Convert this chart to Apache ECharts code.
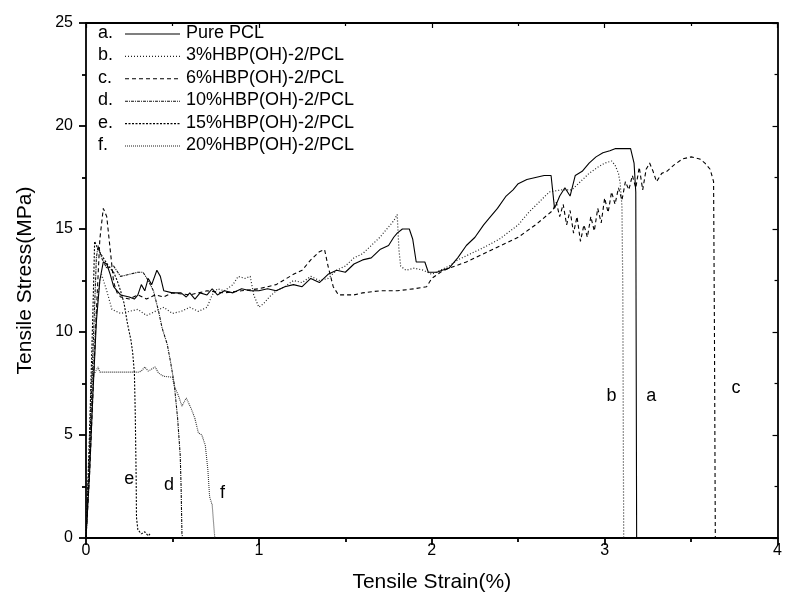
<!DOCTYPE html>
<html><head><meta charset="utf-8">
<script src="https://cdn.jsdelivr.net/npm/echarts@6/dist/echarts.min.js"></script>
<style>html,body{margin:0;padding:0;background:#fff}#c{width:785px;height:598px}</style>
</head><body><div id="c"></div>
<script>
// ---- data ----
const xTicks = [0, 1, 2, 3, 4];
const yTicks = [0, 5, 10, 15, 20, 25];
const seriesNames = ['Pure PCL', '3%HBP(OH)-2/PCL', '6%HBP(OH)-2/PCL', '10%HBP(OH)-2/PCL', '15%HBP(OH)-2/PCL', '20%HBP(OH)-2/PCL'];
const seriesLetters = ['a.', 'b.', 'c.', 'd.', 'e.', 'f.'];

const curveA = [[0,0],[0.02,3],[0.04,7],[0.06,10.5],[0.08,12.5],[0.1,13.4],[0.12,13.3],[0.14,12.8],[0.16,12.2],[0.18,12.0],[0.2,11.8],[0.25,11.7],[0.28,11.6],[0.3,11.8],[0.32,12.3],[0.34,12.0],[0.36,12.6],[0.38,12.3],[0.41,13.0],[0.43,12.7],[0.45,12.0],[0.5,11.9],[0.55,11.9],[0.58,11.7],[0.6,11.9],[0.63,11.6],[0.66,11.9],[0.7,11.8],[0.73,12.1],[0.76,11.8],[0.8,12.0],[0.85,11.9],[0.9,12.1],[0.95,12.0],[1.0,12.0],[1.05,12.1],[1.1,12.0],[1.15,12.2],[1.2,12.3],[1.25,12.2],[1.3,12.6],[1.35,12.4],[1.4,12.8],[1.45,13.0],[1.5,12.9],[1.55,13.3],[1.6,13.5],[1.65,13.6],[1.7,14.0],[1.75,14.2],[1.78,14.6],[1.8,14.8],[1.83,15.0],[1.87,15.0],[1.89,14.5],[1.91,13.4],[1.96,13.4],[1.98,12.9],[2.03,12.9],[2.06,13.0],[2.1,13.1],[2.15,13.6],[2.2,14.2],[2.25,14.6],[2.3,15.2],[2.33,15.5],[2.38,16.0],[2.43,16.6],[2.47,16.9],[2.5,17.2],[2.55,17.4],[2.6,17.5],[2.65,17.6],[2.69,17.6],[2.71,16.0],[2.74,16.6],[2.77,17.0],[2.8,16.6],[2.83,17.6],[2.87,17.8],[2.91,18.2],[2.95,18.5],[2.99,18.7],[3.03,18.8],[3.06,18.9],[3.15,18.9],[3.17,18.2],[3.18,16.8],[3.185,0]];
const curveB = [[0,0],[0.02,4],[0.04,8],[0.06,11],[0.08,12.5],[0.09,12.8],[0.12,12.0],[0.15,11.1],[0.2,10.9],[0.25,11.0],[0.3,11.1],[0.35,10.8],[0.4,11.0],[0.45,11.2],[0.5,10.9],[0.55,11.0],[0.6,11.2],[0.65,11.0],[0.7,11.2],[0.73,11.8],[0.76,12.1],[0.8,12.0],[0.85,12.3],[0.88,12.7],[0.92,12.6],[0.95,12.7],[0.97,11.8],[1.0,11.2],[1.03,11.4],[1.06,11.7],[1.1,12.0],[1.15,12.2],[1.2,12.5],[1.25,12.4],[1.3,12.7],[1.35,12.5],[1.4,12.6],[1.45,13.0],[1.5,13.2],[1.55,13.6],[1.6,13.8],[1.65,14.2],[1.7,14.6],[1.74,15.0],[1.78,15.4],[1.8,15.7],[1.81,14.0],[1.82,13.2],[1.85,13.0],[1.9,13.1],[1.95,13.0],[2.0,12.8],[2.05,13.0],[2.1,13.2],[2.15,13.5],[2.2,13.7],[2.3,14.1],[2.39,14.5],[2.5,15.2],[2.56,15.8],[2.62,16.3],[2.68,16.8],[2.75,16.9],[2.81,16.9],[2.86,17.3],[2.91,17.7],[2.96,18.0],[3.0,18.2],[3.04,18.3],[3.06,18.1],[3.08,17.7],[3.09,17.2],[3.1,16.1],[3.105,12],[3.11,0]];
const curveC = [[0,0],[0.02,3],[0.04,7],[0.06,11],[0.08,14.5],[0.1,16.0],[0.12,15.6],[0.14,14],[0.16,12.4],[0.18,11.9],[0.2,11.7],[0.25,11.6],[0.3,11.8],[0.35,11.6],[0.4,11.8],[0.45,11.7],[0.5,11.9],[0.6,11.8],[0.7,12.0],[0.8,11.9],[0.9,12.0],[1.0,12.1],[1.1,12.3],[1.2,12.8],[1.25,13.0],[1.3,13.5],[1.35,13.9],[1.38,14.0],[1.4,13.2],[1.43,12.2],[1.46,11.8],[1.55,11.8],[1.6,11.9],[1.7,12.0],[1.8,12.0],[1.9,12.1],[1.97,12.2],[2.0,12.6],[2.05,12.9],[2.1,13.1],[2.2,13.4],[2.3,13.8],[2.4,14.2],[2.5,14.6],[2.6,15.2],[2.7,15.9],[2.72,16.3],[2.74,15.6],[2.76,16.2],[2.78,15.2],[2.8,15.9],[2.82,14.8],[2.84,15.6],[2.86,14.4],[2.88,15.2],[2.9,14.6],[2.92,15.6],[2.94,14.9],[2.96,16.0],[2.98,15.3],[3.0,16.5],[3.02,15.8],[3.04,16.8],[3.06,16.2],[3.08,17.0],[3.1,16.4],[3.12,17.3],[3.14,16.9],[3.16,17.6],[3.18,17.0],[3.2,18.0],[3.22,16.9],[3.24,17.9],[3.26,18.2],[3.28,17.8],[3.3,17.3],[3.33,17.7],[3.36,17.8],[3.4,18.1],[3.45,18.4],[3.5,18.5],[3.55,18.4],[3.58,18.2],[3.61,17.9],[3.63,17.3],[3.635,10],[3.64,0]];
const curveD = [[0,0],[0.02,4],[0.04,9],[0.06,13.6],[0.07,14.2],[0.09,13.6],[0.12,13.1],[0.16,13.2],[0.2,12.7],[0.25,12.8],[0.3,12.9],[0.33,12.9],[0.36,12.5],[0.39,12.0],[0.42,11.0],[0.44,10.2],[0.47,9.4],[0.49,8.5],[0.51,7.5],[0.53,5.8],[0.545,4.0],[0.55,2.5],[0.555,0.2],[0.56,0]];
const curveE = [[0,0],[0.02,5],[0.04,11],[0.05,14.4],[0.07,14.0],[0.1,13.6],[0.13,13.2],[0.16,12.9],[0.18,12.5],[0.2,12.0],[0.22,11.4],[0.24,10.4],[0.26,9.6],[0.27,9.0],[0.28,8.0],[0.285,6],[0.29,3],[0.292,1.0],[0.3,0.4],[0.32,0.2],[0.34,0.3],[0.36,0.1],[0.37,0.2]];
const curveF = [[0,0],[0.02,4],[0.03,7.5],[0.04,8.2],[0.05,8.0],[0.07,8.3],[0.08,8.05],[0.15,8.05],[0.2,8.05],[0.25,8.05],[0.3,8.05],[0.32,8.1],[0.34,8.3],[0.36,8.1],[0.38,8.2],[0.4,8.3],[0.42,8.0],[0.45,7.85],[0.5,7.8],[0.51,7.4],[0.535,6.9],[0.555,6.4],[0.58,6.8],[0.61,6.25],[0.63,5.8],[0.65,5.1],[0.67,5.0],[0.69,4.5],[0.705,3.3],[0.715,2.0],[0.73,1.6],[0.74,0.5],[0.745,0]];
const curves = [curveA, curveB, curveC, curveD, curveE, curveF];

// curve end labels: [text, x, y]
const curveLabels = [['a', 3.27, 6.9], ['b', 3.04, 6.9], ['c', 3.76, 7.3], ['e', 0.25, 2.85], ['d', 0.48, 2.55], ['f', 0.79, 2.2]];

// ---- styles ----
const styles = [
  {color: '#000', type: 'solid', w: 1.1},
  {color: '#222', type: [1, 2], w: 1.2},
  {color: '#000', type: [4, 3], w: 1.1},
  {color: '#111', type: [3, 1, 1, 1], w: 1.1},
  {color: '#000', type: [2, 1.5], w: 1.1},
  {color: '#333', type: [1, 1], w: 1.1}
];
const FONT = 'Liberation Sans, Arial, sans-serif';

const chart = echarts.init(document.getElementById('c'));
const grid = {left: 86, right: 6, top: 23, bottom: 60};
const AX = {color: '#000', width: 1.8};
const option = {
  animation: false,
  backgroundColor: '#fff',
  grid: grid,
  xAxis: [{
    type: 'value', min: xTicks[0], max: xTicks[xTicks.length - 1], interval: 1,
    name: 'Tensile Strain(%)', nameLocation: 'middle', nameGap: 34,
    nameTextStyle: {fontFamily: FONT, fontSize: 21, color: '#000'},
    axisLine: {onZero: false, lineStyle: AX},
    axisTick: {inside: false, length: 7, lineStyle: AX},
    minorTick: {show: true, splitNumber: 2, length: 4, lineStyle: AX},
    axisLabel: {fontFamily: FONT, fontSize: 16, color: '#000', margin: 5},
    splitLine: {show: false}
  }, {
    type: 'value', position: 'top', min: 0, max: 4, interval: 1,
    axisLine: {show: true, onZero: false, lineStyle: AX},
    axisTick: {show: true, inside: true, length: 5, lineStyle: {color: '#000', width: 1.2}},
    minorTick: {show: true, splitNumber: 2, length: 3, lineStyle: {color: '#000', width: 1.2}},
    axisLabel: {show: false}, splitLine: {show: false}
  }],
  yAxis: [{
    type: 'value', min: yTicks[0], max: yTicks[yTicks.length - 1], interval: 5,
    name: 'Tensile Stress(MPa)', nameLocation: 'middle', nameGap: 50,
    nameTextStyle: {fontFamily: FONT, fontSize: 21, color: '#000'},
    axisLine: {show: true, onZero: false, lineStyle: AX},
    axisTick: {show: true, inside: false, length: 7, lineStyle: AX},
    minorTick: {show: true, splitNumber: 2, length: 4, lineStyle: AX},
    axisLabel: {fontFamily: FONT, fontSize: 16, color: '#000', margin: 13},
    splitLine: {show: false}
  }, {
    type: 'value', position: 'right', min: 0, max: 25, interval: 5,
    axisLine: {show: true, onZero: false, lineStyle: AX},
    axisTick: {show: true, inside: true, length: 5, lineStyle: {color: '#000', width: 1.2}},
    minorTick: {show: true, splitNumber: 2, length: 3, lineStyle: {color: '#000', width: 1.2}},
    axisLabel: {show: false}, splitLine: {show: false}
  }],
  series: curves.map((d, i) => ({
    name: seriesNames[i], type: 'line', data: d, showSymbol: false, symbol: 'none',
    xAxisIndex: 0, yAxisIndex: 0, z: 10 - i,
    lineStyle: {color: styles[i].color, type: styles[i].type, width: styles[i].w}
  }))
};
chart.setOption(option);

// legend (drawn as graphic) and curve labels positioned through the axes
const graphics = [];
const legTop = 34, legStep = 22.4;
seriesNames.forEach((n, i) => {
  const y = legTop + i * legStep;
  graphics.push({type: 'text', left: 98, top: y - 10, style: {text: seriesLetters[i], font: '18px ' + FONT, fill: '#000'}});
  graphics.push({type: 'line', shape: {x1: 125, y1: y, x2: 180, y2: y}, style: {stroke: styles[i].color, lineWidth: styles[i].w, lineDash: styles[i].type === 'solid' ? null : styles[i].type}});
  graphics.push({type: 'text', left: 186, top: y - 10, style: {text: n, font: '18px ' + FONT, fill: '#000'}});
});
curveLabels.forEach(l => {
  const p = chart.convertToPixel({xAxisIndex: 0, yAxisIndex: 0}, [l[1], l[2]]);
  graphics.push({type: 'text', x: p[0], y: p[1], style: {text: l[0], font: '18px ' + FONT, fill: '#000', align: 'center', verticalAlign: 'middle'}});
});
chart.setOption({graphic: graphics});
</script>
</body></html>
